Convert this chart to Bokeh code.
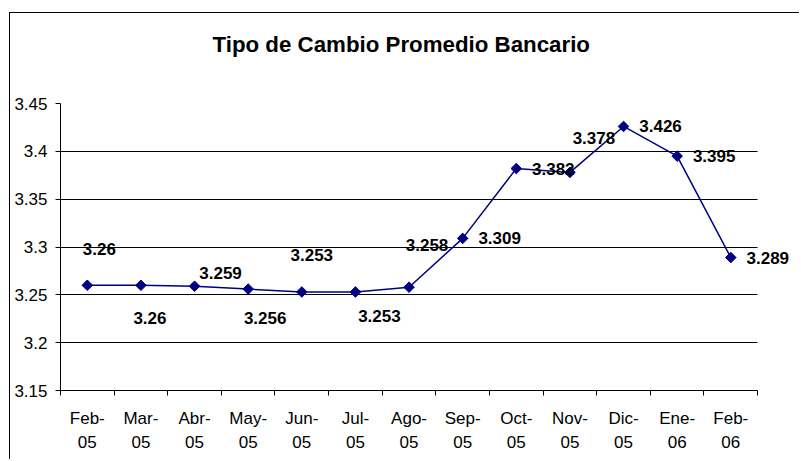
import math
from bokeh.plotting import figure
from bokeh.models import FixedTicker, ColumnDataSource, LabelSet, Range1d, Title
from bokeh.embed import file_html
from bokeh.resources import INLINE
from bokeh.core.properties import value

# ---------------- data ----------------
chart_title = "Tipo de Cambio Promedio Bancario"
months = ["Feb-\n05", "Mar-\n05", "Abr-\n05", "May-\n05", "Jun-\n05", "Jul-\n05",
          "Ago-\n05", "Sep-\n05", "Oct-\n05", "Nov-\n05", "Dic-\n05", "Ene-\n06", "Feb-\n06"]
rates = [3.26, 3.26, 3.259, 3.256, 3.253, 3.253, 3.258, 3.309, 3.382, 3.378, 3.426, 3.395, 3.289]
rate_labels = ["3.26", "3.26", "3.259", "3.256", "3.253", "3.253", "3.258",
               "3.309", "3.382", "3.378", "3.426", "3.395", "3.289"]
y_ticks = [3.15, 3.2, 3.25, 3.3, 3.35, 3.4, 3.45]
y_tick_labels = ["3.15", "3.2", "3.25", "3.3", "3.35", "3.4", "3.45"]

# label nudges in screen pixels (style, as placed in the original chart; +dy = down)
label_dx = [12, 9, 26, 17, 10, 24, 18, 37, 37, 24, 37, 37, 37]
label_dy = [-36, 33, -13, 29, -37, 24, -42, 0, 0, -34, 0, 0, 0]

FONT = "Liberation Sans"
NAVY = "#000080"

n = len(months)
xs = [i + 0.5 for i in range(n)]
bounds = list(range(n + 1))

src = ColumnDataSource(dict(x=xs, y=rates, label=rate_labels,
                            dx=label_dx, dy=[-d for d in label_dy]))

# frame extends a little past the last month so that the last data label is not clipped
p = figure(width=790, height=447, x_range=Range1d(0, n + 0.8),
           y_range=Range1d(y_ticks[0], y_ticks[-1]),
           output_backend="svg", toolbar_location=None,
           min_border_left=50, min_border_right=0, min_border_top=90, min_border_bottom=70)
p.margin = (12, 0, 0, 9)
p.styles = {"border-left": "1px solid black", "border-top": "1px solid black"}
p.background_fill_color = "white"
p.border_fill_color = "white"
p.outline_line_color = None

# title: an empty spacer title next to the frame, then the real title above it
p.add_layout(Title(text=" ", text_font_size="1px", standoff=39), "above")
p.add_layout(Title(text=chart_title, align="left", offset=152, standoff=10,
                   text_font=FONT, text_font_style="bold", text_font_size="22.3px",
                   text_color="black"), "above")

# y axis
p.yaxis.ticker = FixedTicker(ticks=y_ticks)
p.yaxis.major_label_overrides = dict(zip(y_ticks, y_tick_labels))
p.yaxis.axis_line_color = "black"
p.yaxis.major_tick_line_color = "black"
p.yaxis.major_tick_out = 5
p.yaxis.major_tick_in = 0
p.yaxis.minor_tick_line_color = None
p.yaxis.major_label_standoff = 8
p.yaxis.major_label_text_font = FONT
p.yaxis.major_label_text_font_size = "17px"
p.yaxis.major_label_text_color = "black"

# x axis: labels at month centres, ticks at boundaries
p.xaxis.ticker = FixedTicker(ticks=xs, minor_ticks=bounds)
p.xaxis.bounds = (0, n)
p.xaxis.major_label_overrides = dict(zip(xs, months))
p.xaxis.axis_line_color = "black"
p.xaxis.major_tick_line_color = None
p.xaxis.major_tick_out = 0
p.xaxis.major_tick_in = 0
p.xaxis.minor_tick_line_color = "black"
p.xaxis.minor_tick_out = 5
p.xaxis.minor_tick_in = 0
p.xaxis.major_label_standoff = 13
p.xaxis.major_label_text_font = FONT
p.xaxis.major_label_text_font_size = "17px"
p.xaxis.major_label_text_line_height = 1.3
p.xaxis.major_label_text_color = "black"

# grid
p.xgrid.grid_line_color = None
p.ygrid.ticker = FixedTicker(ticks=y_ticks[1:-1])
p.ygrid.cross_bounds = (0, n)
p.ygrid.grid_line_color = "black"
p.ygrid.grid_line_width = 1

# series
p.line("x", "y", source=src, line_color=NAVY, line_width=1.5)
p.scatter("x", "y", source=src, marker="square", size=7.5, angle=math.pi / 4,
          fill_color=NAVY, line_color=NAVY)
p.add_layout(LabelSet(x="x", y="y", text="label", source=src, x_offset="dx", y_offset="dy",
                      text_align="center", text_baseline="middle", text_font=value(FONT),
                      text_font_style="bold", text_font_size="17px", text_color="black"))

open("out.html", "w").write(file_html(p, INLINE))
